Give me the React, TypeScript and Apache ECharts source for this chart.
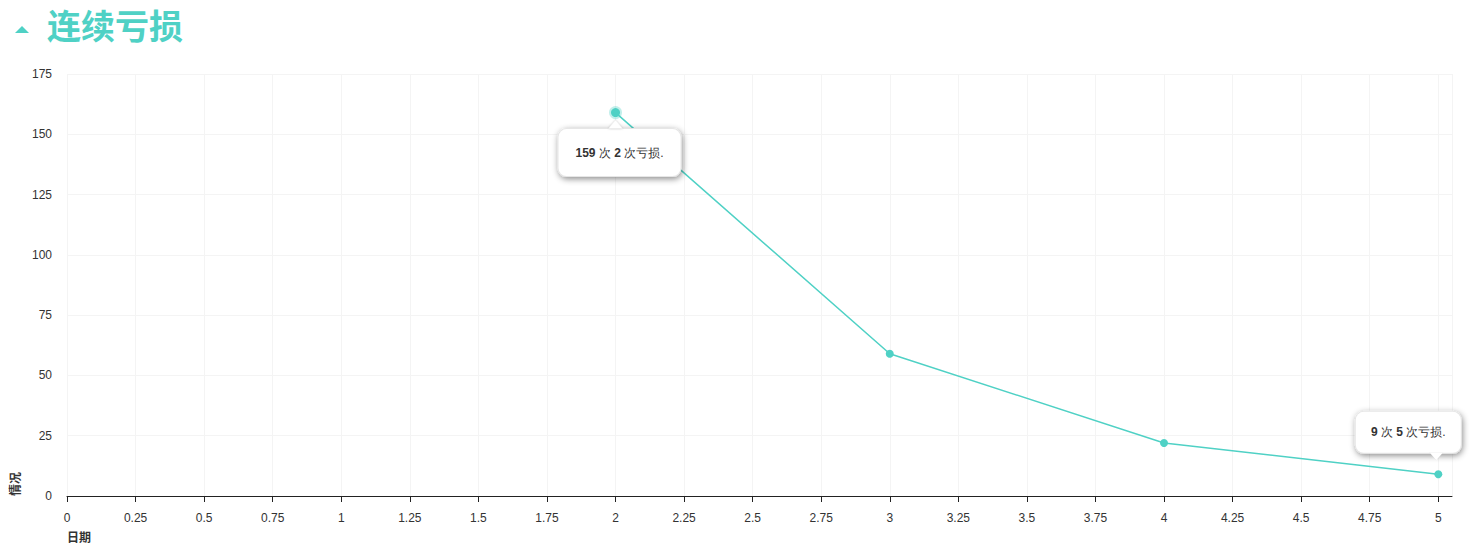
import React, { useEffect, useRef } from "react";
import * as echarts from "echarts";

const titleText = "连续亏损";
const xAxisName = "日期";
const yAxisName = "情况";
const xValues = [2, 3, 4, 5];
const yValues = [159, 59, 22, 9];

const TEAL = "#4fd1c5";

export default function App() {
  const ref = useRef<HTMLDivElement>(null);
  useEffect(() => {
    const chart = echarts.init(ref.current!, undefined, { renderer: "svg" });
    const boxLabel = (offset: number[], width: number, h: number) => ({
      show: true,
      position: "inside",
      offset,
      formatter: (p: any) => `{b|${p.value[1]}} {n|次} {b|${p.value[0]}} {n|次亏损.}`,
      color: "#333",
      fontSize: 12,
      fontFamily: "Arial, 'Liberation Sans', sans-serif",
      backgroundColor: "#fff",
      borderRadius: 8,
      borderColor: "#e6e6e6",
      borderWidth: 1,
      width,
      lineHeight: h,
      align: "center",
      verticalAlign: "middle",
      padding: 0,
      shadowColor: "rgba(0,0,0,0.45)",
      shadowBlur: 6,
      shadowOffsetX: 1,
      shadowOffsetY: 2,
      rich: {
        b: { fontWeight: "bold", fontSize: 12, color: "#333", lineHeight: h },
        n: { fontSize: 12, color: "#333", lineHeight: h },
      },
    });
    const data = xValues.map((x, i) => {
      const item: any = { value: [x, yValues[i]] };
      if (i === 0) {
        item.label = boxLabel([4, 40], 122, 47);
        item.symbolSize = 9;
        item.itemStyle = { borderColor: "rgba(79,209,197,0.35)", borderWidth: 4 };
      } else if (i === 3) {
        item.label = boxLabel([-30, -42], 105, 41);
      }
      return item;
    });
    const pointerData = [
      { coord: [xValues[0], yValues[0]], symbolRotate: 0, symbolOffset: [0, 12] },
      { coord: [xValues[3], yValues[3]], symbolRotate: 180, symbolOffset: [-2, -18] },
    ];
    chart.setOption({
      animation: false,
      textStyle: { fontFamily: "Arial, 'Liberation Sans', sans-serif" },
      grid: { left: 67, right: 19, top: 74, bottom: 59 },
      xAxis: {
        type: "value",
        min: 0,
        max: 5.05,
        interval: 0.25,
        axisLine: { show: true, lineStyle: { color: "#222" } },
        axisTick: { show: true, length: 6, lineStyle: { color: "#222" } },
        axisLabel: { color: "#333", fontSize: 12, margin: 16, showMaxLabel: false },
        splitLine: { show: true, lineStyle: { color: "#f4f4f4" } },
      },
      yAxis: {
        type: "value",
        min: 0,
        max: 175,
        interval: 25,
        axisLine: { show: false },
        axisTick: { show: false },
        axisLabel: { color: "#333", fontSize: 12, margin: 15 },
        splitLine: { show: true, lineStyle: { color: "#f4f4f4" } },
      },
      graphic: [
        {
          type: "polygon",
          shape: { points: [[15, 33], [22, 26], [29, 33]] },
          style: { fill: TEAL },
        },
        {
          type: "text",
          left: 47,
          top: 7,
          style: {
            text: titleText,
            fill: TEAL,
            font: "bold 34px 'Noto Sans CJK SC', sans-serif",
          },
        },
        {
          type: "text",
          left: 67,
          top: 530,
          style: {
            text: xAxisName,
            fill: "#333",
            font: "bold 12px 'Noto Sans CJK SC', sans-serif",
          },
        },
        {
          type: "text",
          x: 8,
          y: 496,
          rotation: Math.PI / 2,
          style: {
            text: yAxisName,
            fill: "#333",
            font: "bold 12px 'Noto Sans CJK SC', sans-serif",
            verticalAlign: "top",
          },
        },
      ],
      series: [
        {
          type: "line",
          data,
          symbol: "circle",
          symbolSize: 8,
          lineStyle: { color: TEAL, width: 1.5 },
          itemStyle: { color: TEAL },
          label: { show: false },
          z: 2,
          markPoint: {
            symbol: "triangle",
            symbolSize: [14, 8],
            label: { show: false },
            itemStyle: {
              color: "#fff",
              shadowColor: "rgba(0,0,0,0.3)",
              shadowBlur: 2,
              shadowOffsetX: 0,
              shadowOffsetY: 0,
            },
            data: pointerData,
            z: 3,
          },
        },
      ],
    });
    return () => chart.dispose();
  }, []);
  return <div ref={ref} style={{ width: 1471, height: 555, position: "absolute", left: 0, top: 0 }} />;
}
